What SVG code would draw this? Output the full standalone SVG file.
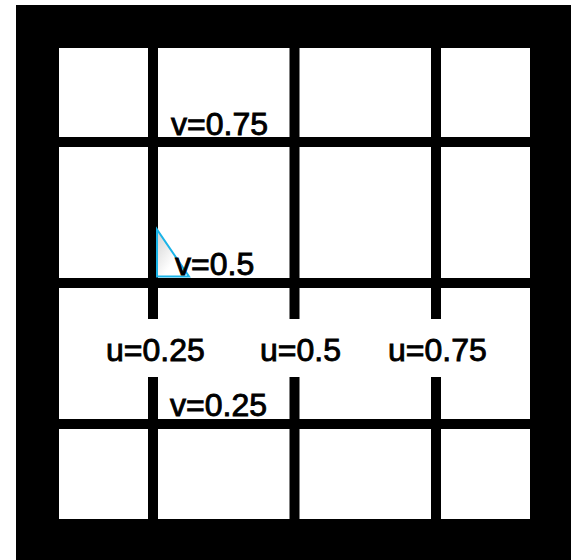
<svg xmlns="http://www.w3.org/2000/svg" width="576" height="560" viewBox="0 0 576 560">
  <defs>
    <style>
      .lbl { font-family: "Liberation Sans", Arial, sans-serif; font-size: 32px; fill: #000; stroke: #000; stroke-width: 0.9; }
      .grid { fill: #000; }
    </style>
    <linearGradient id="tg" x1="0" y1="0" x2="1" y2="1">
      <stop offset="0" stop-color="#d0d0d0"/>
      <stop offset="0.6" stop-color="#ffffff"/>
    </linearGradient>
  </defs>
  <rect x="0" y="0" width="576" height="560" fill="#fff"/>
  <g id="frame">
    <rect x="16" y="5" width="555" height="555" fill="#000"/>
    <rect x="59" y="48" width="471" height="471" fill="#fff"/>
  </g>
  <g id="gridlines">
    <rect class="grid" x="59" y="137" width="471" height="10"/>
    <rect class="grid" x="59" y="278" width="471" height="10"/>
    <rect class="grid" x="59" y="419" width="471" height="10"/>
    <rect class="grid" x="148" y="48" width="10" height="271"/>
    <rect class="grid" x="148" y="377" width="10" height="142"/>
    <rect class="grid" x="289.5" y="48" width="10" height="271"/>
    <rect class="grid" x="289.5" y="377" width="10" height="142"/>
    <rect class="grid" x="431" y="48" width="10" height="271"/>
    <rect class="grid" x="431" y="377" width="10" height="142"/>
  </g>
  <g id="triangle">
    <polygon points="157,229.5 157,276.5 189,276.5" fill="url(#tg)" stroke="#1ab4e8" stroke-width="2"/>
  </g>
  <g id="labels">
    <text class="lbl" x="171" y="135">v=0.75</text>
    <text class="lbl" x="175" y="275">v=0.5</text>
    <text class="lbl" x="106" y="361">u=0.25</text>
    <text class="lbl" x="260" y="361">u=0.5</text>
    <text class="lbl" x="388" y="361">u=0.75</text>
    <text class="lbl" x="170" y="416">v=0.25</text>
  </g>
</svg>
